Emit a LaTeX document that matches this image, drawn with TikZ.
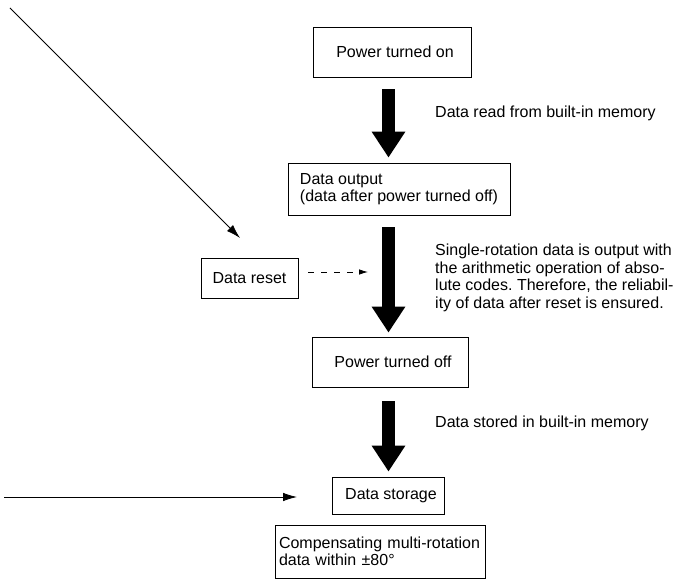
\documentclass[tikz,border=0pt]{standalone}
\usepackage{fontspec}
\setmainfont{Liberation Sans}
\usetikzlibrary{arrows.meta}
\frenchspacing
\begin{document}
\begin{tikzpicture}[x=1pt,y=-1pt,
  box/.style={draw, line width=0.8pt, inner sep=0pt, font=\fontsize{16}{17.5}\selectfont},
  cbox/.style={box, execute at begin node={\hspace*{6pt}}},
  leftbox/.style={box, align=left},
  lbl/.style={anchor=west, inner sep=0pt, align=left, font=\fontsize{16}{17.5}\selectfont},
  bigarrow/.style={line width=13pt, -{Triangle[length=26pt,width=32pt]}},
  thinarrow/.style={line width=0.8pt, -{Latex[length=14pt,width=8.5pt]}},
  dasharrow/.style={line width=0.8pt, dash pattern=on 6pt off 7pt, -{Latex[length=9pt,width=5.5pt]}}
]
\useasboundingbox (0,0) rectangle (685,580);
\coordinate (col) at (388.5,0);

\node[cbox, minimum width=158pt, minimum height=50pt] (on) at (392,52) {Power turned on};
\node[leftbox, minimum width=222pt, minimum height=52pt] (out) at (399,189)
  {Data output\\(data after power turned off)};
\node[box, minimum width=97pt, minimum height=40pt] (reset) at (249.5,278) {Data reset};
\node[cbox, minimum width=156pt, minimum height=50pt] (off) at (390,362) {Power turned off};
\node[cbox, minimum width=112pt, minimum height=37pt] (store) at (388,495.5) {Data storage};
\node[leftbox, text width=202pt, inner xsep=4pt, minimum height=53pt] (comp) at (380,551.5)
  {Compensating multi-rotation\\data within ±80°};

\node[lbl] (lab1) at (435,113) {Data read from built-in memory};
\node[lbl] (lab2) at (435,278) {Single-rotation data is output with\\the arithmetic operation of abso-\\lute codes. Therefore, the reliabil-\\ity of data after reset is ensured.};
\node[lbl] (lab3) at (435,423) {Data stored in built-in memory};

\draw[bigarrow, shorten <=12pt, shorten >=5pt] (on.south -| col) -- (out.north -| col);
\draw[bigarrow, shorten <=12pt, shorten >=4pt] (out.south -| col) -- (off.north -| col);
\draw[bigarrow, shorten <=14pt, shorten >=5pt] (off.south -| col) -- (store.north -| col);

\coordinate (d1) at (10,8);
\coordinate (d2) at (240,238);
\draw[thinarrow] (d1) -- (d2);

\coordinate (h1) at (4,497);
\coordinate (h2) at (297,497);
\draw[thinarrow] (h1) -- (h2);

\coordinate (r1) at (308,272);
\coordinate (r2) at (368,272);
\draw[dasharrow] (r1) -- (r2);
\end{tikzpicture}
\end{document}
